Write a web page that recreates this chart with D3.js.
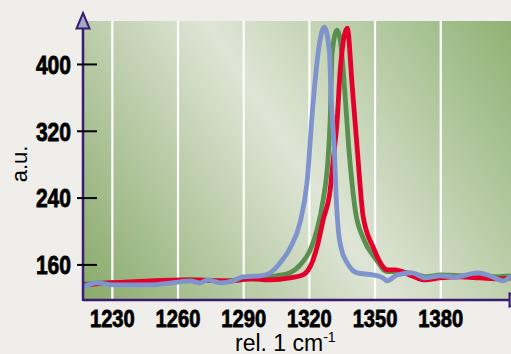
<!DOCTYPE html>
<html>
<head>
<meta charset="utf-8">
<script src="https://cdn.jsdelivr.net/npm/d3@7/dist/d3.min.js"></script>
<style>
  body { margin: 0; background: #efeeea; }
  svg { display: block; }
</style>
</head>
<body>
<div id="chart"></div>
<script>
// wavenumbers (rel. 1 cm-1) and intensities (a.u.)
const greenShift = [1216.6, 1230, 1250, 1265, 1280, 1292, 1300, 1305, 1311, 1315.8, 1320.4, 1323.5, 1326.3, 1328.5, 1329.5, 1330.4, 1332.7, 1334.1, 1336.4, 1338, 1339.6, 1341, 1344.6, 1350.1, 1355.5, 1360, 1367, 1373, 1380, 1390, 1398, 1405, 1412.1];
const greenValue = [137, 139, 140, 142, 141, 143, 145, 147, 150.4, 160, 178, 202, 238, 286, 333, 414, 441, 429, 360, 300, 255, 225, 192, 168, 152, 152, 150, 146, 148, 147, 146, 146, 147];

const redShift = [1216.6, 1229, 1247.2, 1265.5, 1283.8, 1292.9, 1302, 1311.2, 1317.1, 1321.7, 1324, 1326.3, 1329.5, 1330.9, 1332.7, 1334.1, 1337.3, 1339.6, 1341.9, 1344.6, 1349.1, 1353.7, 1355.5, 1359.2, 1366.9, 1372.8, 1379.7, 1388.8, 1398, 1407.1, 1412.1];
const redValue = [136, 138.5, 141, 142, 141, 143.3, 142, 144.4, 148, 166, 186.3, 213.8, 249.7, 285.6, 333.4, 393.3, 443.5, 373, 297.6, 217.4, 181.5, 157.6, 154, 154, 146.8, 142, 144.4, 145.6, 144.4, 143.3, 144.4];

const blueShift = [1216.6, 1223, 1230.3, 1245.8, 1260.9, 1265.5, 1270, 1273.7, 1279.2, 1285.1, 1289.7, 1297.5, 1302, 1306.6, 1311.2, 1315.8, 1318.9, 1321.7, 1324.5, 1326.8, 1329.1, 1330, 1331.4, 1332.3, 1333.2, 1334.5, 1337.3, 1341.8, 1349.1, 1353.7, 1355.5, 1360.1, 1366.9, 1372.8, 1379.7, 1386.6, 1397.1, 1402.6, 1408.5, 1412.1];
const blueValue = [133.7, 138.5, 136.1, 136.1, 139.7, 140.9, 138.5, 142.1, 138.5, 140.9, 145.6, 146.8, 150.4, 162.4, 180.3, 211.4, 258, 353.8, 423, 444.7, 417, 357, 297.6, 237.8, 201.9, 180.3, 162.4, 150.4, 148, 144.4, 140.9, 148, 150.4, 144.4, 146.8, 145.6, 150.4, 146.8, 140.9, 146.8];

const xTicks = [1230, 1260, 1290, 1320, 1350, 1380];
const yTicks = [160, 240, 320, 400];

const width = 511, height = 354;
const plot = { left: 83, right: 511, top: 21, bottom: 300 };

const svg = d3.select("#chart").append("svg")
  .attr("width", width)
  .attr("height", height);

const x = d3.scaleLinear().domain([1216.6, 1412.1]).range([plot.left, plot.right]);
const y = d3.scaleLinear().domain([118, 452]).range([plot.bottom, plot.top]);

// background gradient, light band across the middle
const defs = svg.append("defs");
const grad = defs.append("linearGradient")
  .attr("id", "bg")
  .attr("gradientUnits", "userSpaceOnUse")
  .attr("x1", plot.left).attr("y1", plot.bottom)
  .attr("x2", plot.right).attr("y2", plot.top);
grad.append("stop").attr("offset", 0).attr("stop-color", "#88aa6a");
grad.append("stop").attr("offset", 0.5).attr("stop-color", "#dfe5d6");
grad.append("stop").attr("offset", 1).attr("stop-color", "#90b275");

svg.append("rect")
  .attr("x", plot.left).attr("y", plot.top)
  .attr("width", plot.right - plot.left)
  .attr("height", plot.bottom - plot.top)
  .attr("fill", "url(#bg)");

// white vertical grid
svg.selectAll("line.grid")
  .data(xTicks)
  .enter().append("line")
  .attr("class", "grid")
  .attr("x1", d => x(d)).attr("x2", d => x(d))
  .attr("y1", plot.top).attr("y2", plot.bottom)
  .attr("stroke", "#fff")
  .attr("stroke-width", 2.2);

// spectra
const series = [
  { shift: greenShift, value: greenValue, color: "#5b8f4f" },
  { shift: redShift, value: redValue, color: "#e3002b" },
  { shift: blueShift, value: blueValue, color: "#7f93cc" }
];

const line = d3.line()
  .x(d => x(d[0]))
  .y(d => y(d[1]))
  .curve(d3.curveMonotoneX);

svg.selectAll("path.spec")
  .data(series)
  .enter().append("path")
  .attr("class", "spec")
  .attr("d", s => line(d3.zip(s.shift, s.value)))
  .attr("fill", "none")
  .attr("stroke", s => s.color)
  .attr("stroke-width", 4.8)
  .attr("stroke-linejoin", "round");

// axes
const axisColor = "#3b1c70";
svg.append("line")
  .attr("x1", plot.left).attr("x2", plot.right + 20)
  .attr("y1", plot.bottom).attr("y2", plot.bottom)
  .attr("stroke", axisColor).attr("stroke-width", 2.5);
svg.append("line")
  .attr("x1", plot.left).attr("x2", plot.left)
  .attr("y1", plot.bottom + 1).attr("y2", 26)
  .attr("stroke", axisColor).attr("stroke-width", 2.5);

// arrow heads
svg.append("path")
  .attr("d", `M${plot.left},13 L${plot.left + 6.5},28.5 L${plot.left - 6.5},28.5 Z`)
  .attr("fill", "#9fa9c8")
  .attr("stroke", axisColor).attr("stroke-width", 2)
  .attr("stroke-linejoin", "miter");
svg.append("path")
  .attr("d", `M${plot.right - 1.5},${plot.bottom - 6.5} L${plot.right + 14},${plot.bottom} L${plot.right - 1.5},${plot.bottom + 6.5} Z`)
  .attr("fill", "#9fa9c8")
  .attr("stroke", axisColor).attr("stroke-width", 2);

// condensed heavy look: squeeze a bold sans horizontally, thicken with a stroke
const tickFont = "'Liberation Sans', Arial, sans-serif";

const yg = svg.append("g");
yg.selectAll("line")
  .data(yTicks)
  .enter().append("line")
  .attr("x1", 77).attr("x2", 97)
  .attr("y1", d => y(d)).attr("y2", d => y(d))
  .attr("stroke", "#000").attr("stroke-width", 2);
yg.selectAll("text")
  .data(yTicks)
  .enter().append("text")
  .attr("transform", d => `translate(71,${y(d)}) scale(0.81,1)`)
  .attr("dy", "0.36em")
  .attr("text-anchor", "end")
  .attr("font-family", tickFont)
  .attr("font-weight", "bold")
  .attr("font-size", 26)
  .attr("fill", "#000")
  .attr("stroke", "#000")
  .attr("stroke-width", 0.8)
  .text(d => d);

// x tick labels
svg.append("g").selectAll("text")
  .data(xTicks)
  .enter().append("text")
  .attr("transform", d => `translate(${x(d)},327) scale(0.84,1)`)
  .attr("text-anchor", "middle")
  .attr("font-family", tickFont)
  .attr("font-weight", "bold")
  .attr("font-size", 24)
  .attr("fill", "#000")
  .attr("stroke", "#000")
  .attr("stroke-width", 0.8)
  .text(d => d);

// axis titles
const title = svg.append("text")
  .attr("x", 235)
  .attr("y", 351)
  .attr("font-family", "'Liberation Sans', Arial, sans-serif")
  .attr("font-size", 23)
  .attr("fill", "#000");
title.append("tspan").text("rel. 1 cm");
title.append("tspan")
  .attr("font-size", 14)
  .attr("dy", -9)
  .text("-1");

svg.append("text")
  .attr("transform", "translate(27,164) rotate(-90)")
  .attr("text-anchor", "middle")
  .attr("font-family", "'Liberation Sans', Arial, sans-serif")
  .attr("font-size", 22)
  .attr("fill", "#000")
  .text("a.u.");
</script>
</body>
</html>
